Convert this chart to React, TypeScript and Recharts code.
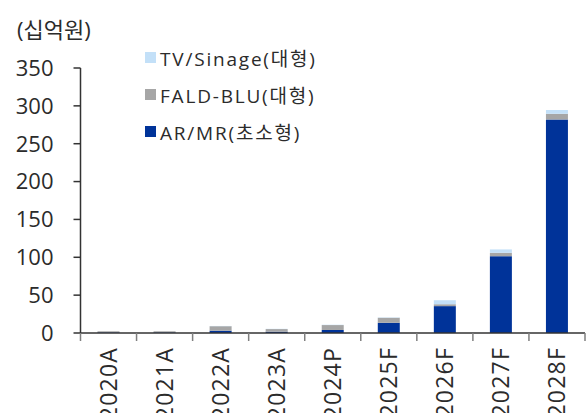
import React from "react";
import { BarChart, Bar, XAxis, YAxis } from "recharts";

const categories = ["2020A", "2021A", "2022A", "2023A", "2024P", "2025F", "2026F", "2027F", "2028F"];
const arMr = [0.8, 0.8, 3, 1.7, 4, 13.5, 35.5, 101.5, 282];
const faldBlu = [1.5, 1.5, 6, 3.5, 6.5, 6.6, 2.5, 4.4, 7.5];
const tvSinage = [0, 0, 0.3, 0.3, 0.4, 0.5, 5.3, 4.5, 5];
const yTicks = [0, 50, 100, 150, 200, 250, 300, 350];

const series = [
  { key: "arMr", name: "AR/MR(초소형)", color: "#003399" },
  { key: "faldBlu", name: "FALD-BLU(대형)", color: "#a6a6a6" },
  { key: "tvSinage", name: "TV/Sinage(대형)", color: "#c3e0f8" },
];

const data = categories.map((year, i) => ({
  year,
  arMr: arMr[i],
  faldBlu: faldBlu[i],
  tvSinage: tvSinage[i],
}));

const W = 587;
const H = 413;
const LEFT = 80.5;
const RIGHT = 2;
const BAND = (W - LEFT - RIGHT) / categories.length;
const FONT = "'Open Sans', 'Noto Sans CJK KR', sans-serif";
const TEXT = "#2b2b2b";

const YearTick = ({ x, y, payload, index }: any) => {
  const left = x - BAND / 2;
  const right = x + BAND / 2;
  return (
    <g>
      <line x1={left} y1={y} x2={left} y2={y + 8} stroke="#7f7f7f" strokeWidth={1.5} />
      {index === categories.length - 1 && (
        <line x1={right} y1={y} x2={right} y2={y + 8} stroke="#7f7f7f" strokeWidth={1.5} />
      )}
      <text
        transform={`translate(${x},${y + 14}) rotate(-90)`}
        textAnchor="end"
        dy="0.36em"
        fontSize={23}
        letterSpacing={1.2}
        fill={TEXT}
        fontFamily={FONT}
      >
        {payload.value}
      </text>
    </g>
  );
};

export default function App() {
  return (
    <div style={{ position: "relative", width: W, height: H, background: "#fff", fontFamily: FONT }}>
      <style>{`body{margin:0}`}</style>
      <div style={{ position: "absolute", left: 17, top: 13, fontSize: 22, color: TEXT, lineHeight: "32px" }}>
        (십억원)
      </div>
      <div style={{ position: "absolute", left: 145, top: 39, zIndex: 2 }}>
        {[...series].reverse().map((s) => (
          <div
            key={s.key}
            style={{ display: "flex", alignItems: "center", height: 37, fontSize: 19, letterSpacing: 1.8, color: TEXT }}
          >
            <span style={{ width: 11, height: 11, background: s.color, marginRight: 4 }} />
            {s.name}
          </div>
        ))}
      </div>
      <BarChart
        width={W}
        height={H}
        data={data}
        margin={{ top: 68, right: RIGHT, left: 0, bottom: 0 }}
        barSize={22}
      >
        <XAxis
          dataKey="year"
          height={80}
          tickLine={false}
          tickSize={0}
          tickMargin={0}
          axisLine={{ stroke: "#333", strokeWidth: 1.5 }}
          tick={<YearTick />}
          interval={0}
        />
        <YAxis
          width={LEFT}
          domain={[0, 350]}
          ticks={yTicks}
          tickSize={7}
          tickMargin={20}
          axisLine={{ stroke: "#333", strokeWidth: 1.5 }}
          tickLine={{ stroke: "#333", strokeWidth: 1.5 }}
          tick={{ fontSize: 22, fill: TEXT, fontFamily: FONT }}
        />
        {series.map((s) => (
          <Bar key={s.key} dataKey={s.key} name={s.name} stackId="a" fill={s.color} isAnimationActive={false} />
        ))}
      </BarChart>
    </div>
  );
}
